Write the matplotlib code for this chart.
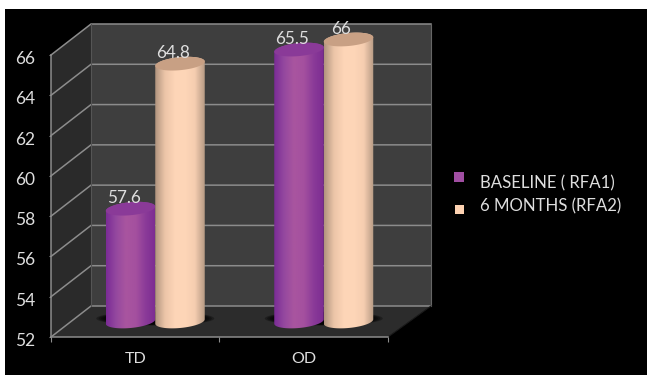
import numpy as np
import matplotlib
matplotlib.use("Agg")
import matplotlib.pyplot as plt
from matplotlib.colors import LinearSegmentedColormap
from matplotlib.patches import Polygon, PathPatch, Rectangle
from matplotlib.path import Path
from matplotlib.transforms import ScaledTranslation

categories = ["TD", "OD"]
series_names = ["BASELINE ( RFA1)", "6 MONTHS (RFA2)"]
baseline_rfa1 = [57.6, 65.5]
six_months_rfa2 = [64.8, 66]
value_labels = [["57.6", "65.5"], ["64.8", "66"]]
y_ticks = [52, 54, 56, 58, 60, 62, 64, 66]

W, H = 647, 375
plt.rcParams["font.family"] = ["Lato", "DejaVu Sans"]
TEXT = "#dedede"
GRID = "#8c8c8c"

fig = plt.figure(figsize=(W / 100, H / 100), dpi=100, facecolor="white")
# Black slide area; a thin white margin stays at the top and left
fig.patches.append(Rectangle((5 / W, 0), 1, (H - 9) / H, transform=fig.transFigure,
                             facecolor="black", edgecolor="none", zorder=-10))

ax = fig.add_axes([51 / W, (H - 337) / H, 337 / W, 282 / H])
ax.patch.set_visible(False)
ax.set_xlim(0, 2)
ax.set_ylim(52, 66)

# Depth of the pseudo-3D box, in data units
px_x = 2 / 337
px_y = 14 / 282
dx_l = 40 * px_x
dx_r = 43 * px_x
dy = 31 * px_y
y0, y1 = 52, 66

# Walls and floor
ax.add_patch(Polygon([(dx_l, y0 + dy), (2 + dx_r, y0 + dy), (2 + dx_r, y1 + dy), (dx_l, y1 + dy)],
                     facecolor="#3e3e3e", edgecolor="none", clip_on=False, zorder=1))
ax.add_patch(Polygon([(0, y0), (dx_l, y0 + dy), (dx_l, y1 + dy), (0, y1)],
                     facecolor="#2a2a2a", edgecolor="none", clip_on=False, zorder=1))
ax.add_patch(Polygon([(0, y0), (2, y0), (2 + dx_r, y0 + dy), (dx_l, y0 + dy)],
                     facecolor="#2c2c2c", edgecolor="none", clip_on=False, zorder=1))

# Gridlines across the back wall and the side wall
for v in y_ticks:
    ax.plot([0, dx_l, 2 + dx_r], [v, v + dy, v + dy], color=GRID, lw=1.1,
            clip_on=False, zorder=2, solid_joinstyle="miter")
ax.plot([dx_l, dx_l], [y0 + dy, y1 + dy], color="#555555", lw=0.8, clip_on=False, zorder=2)
ax.plot([2 + dx_r, 2 + dx_r], [y0 + dy, y1 + dy], color="#666666", lw=0.8, clip_on=False, zorder=2)
ax.plot([2, 2 + dx_r], [y0, y0 + dy], color="#1a1a1a", lw=0.8, clip_on=False, zorder=2)

# Axes
for side in ("top", "right"):
    ax.spines[side].set_visible(False)
for side in ("left", "bottom"):
    ax.spines[side].set_color(GRID)
    ax.spines[side].set_linewidth(1.1)
    ax.spines[side].set_zorder(3)
ax.set_yticks(y_ticks)
ax.set_yticklabels([str(v) for v in y_ticks], fontsize=12.5, color=TEXT)
ax.tick_params(axis="y", length=1.5, color=GRID, pad=10)
ax.set_xticks([0, 1, 2])
ax.set_xticklabels(["", "", ""])
ax.tick_params(axis="x", which="major", length=3.5, color=GRID)
ax.set_xticks([0.5, 1.5], minor=True)
ax.set_xticklabels(categories, minor=True, fontsize=11.5, color=TEXT)
ax.tick_params(axis="x", which="minor", length=0, pad=11)
shift = ScaledTranslation(0, -2.5 / 100, fig.dpi_scale_trans)
for lab in ax.get_yticklabels():
    lab.set_transform(lab.get_transform() + shift)

# Cylinders
BAR_W = 49.5 * px_x
A = BAR_W / 2
B = 6.5 * px_y
TILT = 2.2 * px_y
cx_shift = 20 * px_x
cy_shift = 15.5 * px_y

purple = LinearSegmentedColormap.from_list("p", ["#7a2b96", "#94489f", "#a9559f", "#a4509f", "#8a3a98", "#7c2c92"])
peach = LinearSegmentedColormap.from_list("q", ["#b0937e", "#ecc5a8", "#fdd5b7", "#fed6b8", "#f5cdb0", "#b69a84"])
lid_colors = ["#8a3a98", "#c8a084"]


def ellipse_xy(cx, cy, t):
    return cx + A * np.cos(t), cy + B * np.sin(t) + TILT * np.cos(t)


def draw_cylinder(cx, base, top, cmap, lid, z):
    t_low = np.linspace(np.pi, 2 * np.pi, 60)
    t_up = np.linspace(0, np.pi, 60)
    xb, yb = ellipse_xy(cx, base, t_low)
    xt, yt = ellipse_xy(cx, top, t_up)
    verts = np.column_stack([np.r_[xb, xt], np.r_[yb, yt]])
    clip = PathPatch(Path(np.vstack([verts, verts[0]]), closed=True), transform=ax.transData,
                     facecolor="none", edgecolor="none", clip_on=False)
    ax.add_patch(clip)
    grad = np.linspace(0, 1, 256).reshape(1, -1)
    im = ax.imshow(grad, cmap=cmap, aspect="auto", zorder=z, interpolation="bilinear",
                   extent=(cx - A, cx + A, base - 2 * B, top + 2 * B))
    # The lid rises above the front plane, so clip to the figure rather than the axes
    im.set_clip_box(fig.bbox)
    im.set_clip_path(clip)
    t = np.linspace(0, 2 * np.pi, 120)
    xl, yl = ellipse_xy(cx, top, t)
    ax.add_patch(Polygon(np.column_stack([xl, yl]), facecolor=lid, edgecolor="none",
                         clip_on=False, zorder=z + 0.1))


base_y = y0 + cy_shift
for i, name in enumerate(categories):
    # Soft contact shadow on the floor
    scx = i + 0.5 + cx_shift
    for k in np.linspace(1.0, 0.8, 6):
        half = 59 * px_x * k
        t = np.linspace(0, 2 * np.pi, 100)
        ax.add_patch(Polygon(np.column_stack([scx + half * np.cos(t), base_y + 0.15 + 7 * px_y * k * np.sin(t)]),
                             facecolor="black", edgecolor="none", alpha=0.3, zorder=3))
    for j, (vals, cmap) in enumerate(((baseline_rfa1, purple), (six_months_rfa2, peach))):
        cx = scx + (j - 0.5) * BAR_W
        top = vals[i] + cy_shift
        draw_cylinder(cx, base_y, top, cmap, lid_colors[j], 4 + j)
        ax.annotate(value_labels[j][i], (cx, top), xytext=(-7, 11), textcoords="offset pixels",
                    ha="center", va="center", fontsize=12.3, color=TEXT,
                    annotation_clip=False, zorder=8)

ax.set_xlim(0, 2)
ax.set_ylim(52, 66)

# Key on the right
key_colors = ["#a04ea2", "#fdd2b2"]
key_boxes = [(454, 172, 10), (455, 205, 9)]
key_text_y = [183, 206]
for (px, py, s), col, label, ty in zip(key_boxes, key_colors, series_names, key_text_y):
    fig.patches.append(Rectangle((px / W, 1 - (py + s) / H), s / W, s / H, transform=fig.transFigure,
                                 facecolor=col, edgecolor="none"))
    fig.text(480 / W, 1 - ty / H, label, color=TEXT, fontsize=12.1, ha="left", va="center")

fig.savefig("out.png", dpi=100, facecolor=fig.get_facecolor())
